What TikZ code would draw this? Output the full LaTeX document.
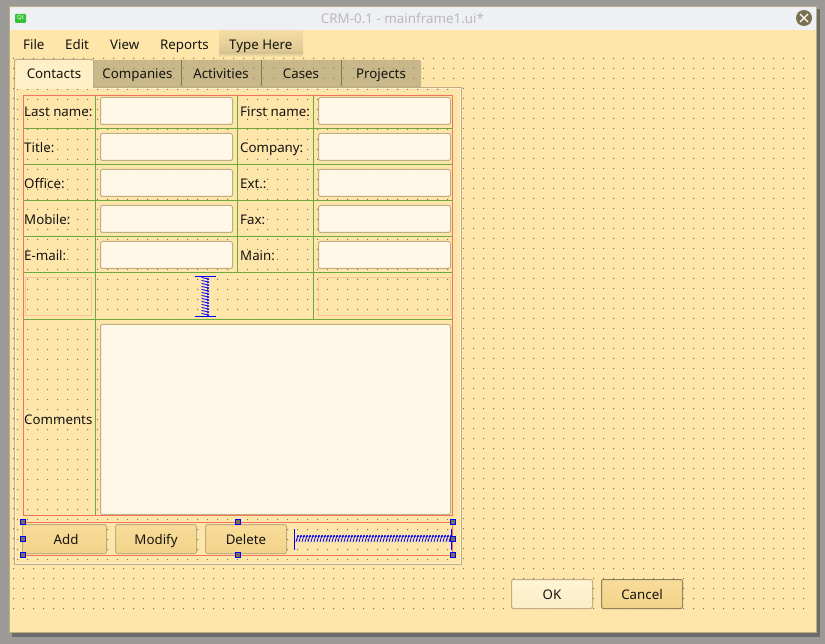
\documentclass[tikz,border=0pt]{standalone}
\usepackage{fontspec}
\setmainfont{Noto Sans}
\definecolor{desk}{HTML}{9B9A97}
\definecolor{body}{HTML}{FEE6AB}
\definecolor{titlebar}{HTML}{EEF0F3}
\definecolor{edge}{HTML}{C0AE82}
\definecolor{tabsel}{HTML}{FFEFC6}
\definecolor{tabun}{HTML}{C8B88A}
\definecolor{fieldfill}{HTML}{FFF8E6}
\definecolor{dotc}{HTML}{80704A}
\definecolor{redl}{HTML}{F2735A}
\definecolor{greenl}{HTML}{6FA83F}
\definecolor{hdl}{HTML}{7A7050}
\definecolor{ink}{HTML}{14130F}
\definecolor{btntop}{HTML}{F8DC98}
\definecolor{btnbot}{HTML}{F2D38A}
\definecolor{oktop}{HTML}{FFF4D4}
\definecolor{okbot}{HTML}{FAEDC8}
\tikzset{
  x=1pt,y=-1pt,
  lbl/.style={font=\fontsize{13.3}{16}\selectfont,text=ink,inner sep=0pt},
  tablbl/.style={lbl,anchor=base},
  formlbl/.style={lbl,anchor=base west},
  field/.style={draw=edge,line width=1pt,fill=fieldfill,rounded corners=2pt},
  pushbtn/.style={draw=edge,line width=1pt,rounded corners=2pt,top color=btntop,bottom color=btnbot},
  handle/.style={draw=blue,line width=1pt,fill=hdl},
  redline/.style={draw=redl,line width=1pt},
  greenline/.style={draw=greenl,line width=1pt},
  ghost/.style={draw=redl!30!body,line width=1pt},
  springline/.style={draw=blue,line width=1pt},
  rung/.style={draw=blue,line width=.8pt},
}
\begin{document}
\begin{tikzpicture}
\useasboundingbox (0,0) rectangle (825,644);
\fill[desk] (0,0) rectangle (825,644);
% window
\fill[black!30!desk] (12,9) rectangle (820,637);
\fill[body,draw=edge,line width=1pt] (9.5,6.5) rectangle (816.5,632.5);
\fill[titlebar] (10,7) rectangle (816,30);
% dots of the form
\fill[dotc] foreach \i in {0,...,79} { foreach \j in {0,...,55} { (13+\i*10,58+\j*10) rectangle ++(1,1) } };
% icon and title
\fill[green!70!black!80!white,rounded corners=1pt] (15,14) rectangle (26,23);
\node[font=\fontsize{6}{7}\selectfont\bfseries,text=white,inner sep=0pt] (qticon) at (20.5,18.3) {Qt};
\node[font=\fontsize{13.4}{15}\selectfont,text=black!27,inner sep=0pt] (title) at (402.5,18) {CRM-0.1 - mainframe1.ui*};
\fill[hdl] (804,18) circle (8);
\draw[white,line width=1.3pt] (800,14) -- (808,22) (808,14) -- (800,22);
% menu
\shade[top color=body!96!black,bottom color=body!86!black] (219,31) rectangle (303,53);
\shade[top color=body!86!black,bottom color=body] (219,53) rectangle (303,57);
\node[lbl,anchor=base west] (mfile) at (23,50) {File};
\node[lbl,anchor=base west] (medit) at (65,50) {Edit};
\node[lbl,anchor=base west] (mview) at (110,50) {View};
\node[lbl,anchor=base west] (mreports) at (160,50) {Reports};
\node[lbl,anchor=base west] (mtype) at (229,50) {Type Here};
% tabs
\fill[tabun,rounded corners=2pt] (93,60) -- (421,60) -- (421,87) -- (93,87) -- cycle;
\draw[edge,line width=1pt] (93.5,87) -- (421,87);
\draw[black!35!tabun,line width=1pt] (181.5,60) -- (181.5,86) (261.5,60) -- (261.5,86) (341.5,60) -- (341.5,86);
\fill[dotc!70!tabun] foreach \i in {9,...,40} { foreach \j in {0,1,2} { (13+\i*10,58+\j*10) rectangle ++(1,1) } };
% page
\fill[body,draw=edge,line width=1pt] (14.5,87.5) rectangle (461.5,564);
\draw[white!45!body,line width=1pt] (15.5,88.5) -- (460.5,88.5) (15.5,88.5) -- (15.5,563) (460.5,88.5) -- (460.5,563) (15.5,563) -- (460.5,563);
\fill[dotc] foreach \i in {0,...,43} { foreach \j in {0,...,47} { (17+\i*10,89+\j*10) rectangle ++(1,1) } };
% selected tab
\fill[tabsel,draw=edge,line width=1pt,rounded corners=2pt] (14.5,88) -- (14.5,59.5) -- (93.5,59.5) -- (93.5,88);
\fill[tabsel] (15,86) rectangle (93,89);
\node[tablbl] (tcontacts) at (54,78.5) {Contacts};
\node[tablbl] (tcompanies) at (137.5,78.5) {Companies};
\node[tablbl] (tactivities) at (221,78.5) {Activities};
\node[tablbl] (tcases) at (301,78.5) {Cases};
\node[tablbl] (tprojects) at (381,78.5) {Projects};
% grid lines
\draw[greenline] (23,128.5) -- (453,128.5) (23,164.5) -- (453,164.5) (23,200.5) -- (453,200.5) (23,236.5) -- (453,236.5) (23,272.5) -- (453,272.5) (23,319.5) -- (453,319.5);
\draw[greenline] (95.5,95) -- (95.5,516) (237.5,95) -- (237.5,272) (313.5,95) -- (313.5,319);
\draw[ghost] (25.5,277.5) rectangle (91.5,315.5) (318.5,277.5) rectangle (450.5,315.5);
\draw[redline] (23.5,95.5) rectangle (452.5,515.5);
\draw[redline] (23.5,522.5) rectangle (452.5,555.5);
% labels
\node[formlbl] (llast) at (24,116.5) {Last name:};
\node[formlbl] (ltitle) at (24,152.5) {Title:};
\node[formlbl] (loffice) at (24,188.5) {Office:};
\node[formlbl] (lmobile) at (24,224.5) {Mobile:};
\node[formlbl] (lemail) at (24,260.5) {E-mail:};
\node[formlbl] (lcomments) at (24,424.5) {Comments};
\node[formlbl] (lfirst) at (240,116.5) {First name:};
\node[formlbl] (lcompany) at (240,152.5) {Company:};
\node[formlbl] (lext) at (240,188.5) {Ext.:};
\node[formlbl] (lfax) at (240,224.5) {Fax:};
\node[formlbl] (lmain) at (240,260.5) {Main:};
% fields
\foreach \y in {97,133,169,205,241} {
  \draw[field] (100.5,\y.5) rectangle (232.5,\y.5+27);
  \draw[field] (318.5,\y.5) rectangle (450.5,\y.5+27);
}
\draw[field] (100.5,324.5) rectangle (450.5,514.5);
% vertical spacer
\draw[springline] (195,276.5) -- (216,276.5) (195,316.5) -- (216,316.5);
\foreach \k in {0,...,12} {
  \draw[rung] (201.5,277.5+\k*3) -- (209,279+\k*3);
  \draw[rung] (209,279+\k*3) -- (207,280+\k*3);
}
% horizontal spacer
\draw[springline] (294.5,529) -- (294.5,550) (451.5,529) -- (451.5,550);
\foreach \k in {0,...,51} {
  \draw[rung] (296+\k*3,542) -- (298+\k*3,535);
  \draw[rung] (298+\k*3,535) -- (299+\k*3,537);
}
% buttons
\shade[pushbtn] (22.5,524.5) rectangle (106.5,553.5);
\shade[pushbtn] (115.5,524.5) rectangle (196.5,553.5);
\shade[pushbtn] (205.5,524.5) rectangle (286.5,553.5);
\node[tablbl] (badd) at (66,544) {Add};
\node[tablbl] (bmodify) at (156,544) {Modify};
\node[tablbl] (bdelete) at (246,544) {Delete};
\shade[pushbtn,top color=oktop,bottom color=okbot] (511.5,579.5) rectangle (592.5,608.5);
\shade[pushbtn,draw=black!25!edge] (601.5,579.5) rectangle (682.5,608.5);
\node[tablbl] (bok) at (552,599) {OK};
\node[tablbl] (bcancel) at (642,599) {Cancel};
% handles
\foreach \x/\y in {23/522,238/522,453/522,23/539,453/539,23/555,238/555,453/555} {
  \draw[handle] (\x-2.5,\y-2.5) rectangle (\x+2.5,\y+2.5);
}
\end{tikzpicture}
\end{document}
